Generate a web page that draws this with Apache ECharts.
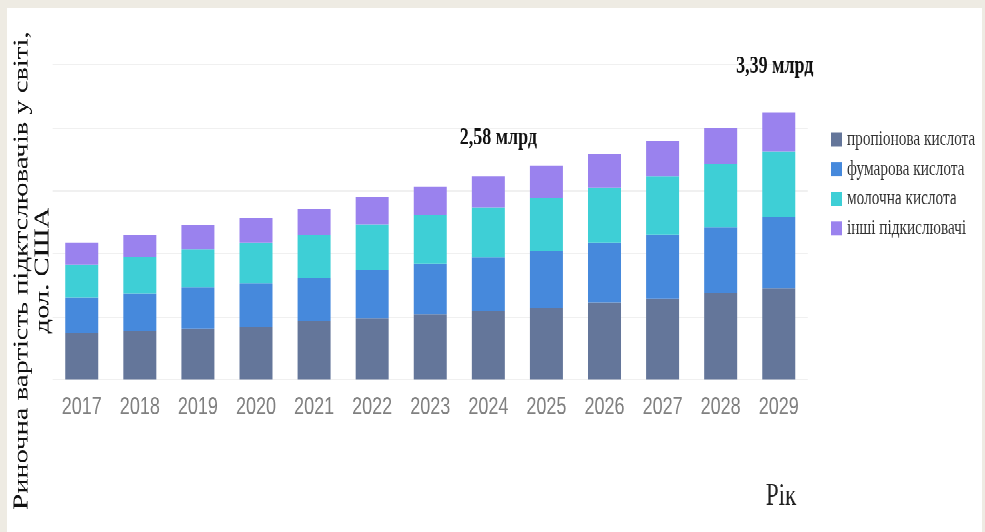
<!DOCTYPE html>
<html>
<head>
<meta charset="utf-8">
<script src="https://cdn.jsdelivr.net/npm/echarts@6/dist/echarts.min.js"></script>
<style>
  html, body { margin: 0; padding: 0; background: #EEEBE3; width: 985px; height: 532px; overflow: hidden; }
  /* the chart is laid out at a reduced height and stretched vertically */
  #chart {
    position: absolute; left: 7px; top: 8px;
    width: 975px; height: 394px;
    background: #ffffff;
    transform: scaleY(1.33); transform-origin: 0 0;
  }
</style>
</head>
<body>
<div id="chart"></div>
<script>
// Market value of acidulants worldwide, bn USD
const years = ['2017', '2018', '2019', '2020', '2021', '2022', '2023', '2024', '2025', '2026', '2027', '2028', '2029'];
const propionic = [0.59, 0.62, 0.65, 0.67, 0.74, 0.78, 0.83, 0.87, 0.91, 0.98, 1.03, 1.10, 1.16];
const fumaric   = [0.45, 0.47, 0.52, 0.55, 0.55, 0.61, 0.64, 0.68, 0.72, 0.76, 0.81, 0.83, 0.90];
const lactic    = [0.42, 0.47, 0.48, 0.52, 0.54, 0.58, 0.62, 0.64, 0.68, 0.70, 0.74, 0.81, 0.84];
const others    = [0.28, 0.27, 0.31, 0.31, 0.33, 0.35, 0.36, 0.39, 0.41, 0.43, 0.45, 0.46, 0.49];
const seriesNames = ['пропіонова кислота', 'фумарова кислота', 'молочна кислота', 'інші підкислювачі'];
const colors = ['#64769A', '#4689DC', '#3ECFD6', '#9A82EE'];
// years whose total is annotated above the bar
const annotatedYears = ['2024', '2029'];

const total = i => propionic[i] + fumaric[i] + lactic[i] + others[i];
const fmtTotal = i => total(i).toFixed(2).replace('.', ',') + ' млрд';

const labelPlacement = { '2024': { distance: 20, offset: [10, 0] }, '2029': { distance: 26, offset: [-4, 0] } };

const topData = others.map((v, i) => {
  const y = years[i];
  if (annotatedYears.indexOf(y) < 0) return v;
  return {
    value: v,
    label: {
      show: true,
      position: 'top',
      distance: labelPlacement[y].distance,
      offset: labelPlacement[y].offset,
      formatter: () => fmtTotal(i),
      fontFamily: 'Liberation Serif',
      fontWeight: 'bold',
      fontSize: 18,
      color: '#111'
    }
  };
});

const chart = echarts.init(document.getElementById('chart'), null, { renderer: 'canvas', devicePixelRatio: 2 });

const barBase = { type: 'bar', stack: 'total', barWidth: 33 };

chart.setOption({
  animation: false,
  backgroundColor: '#ffffff',
  color: colors,
  grid: { left: 45.7, right: 174.2, top: 42.6, bottom: 114.7, containLabel: false },
  legend: {
    orient: 'vertical',
    left: 819,
    top: 86.5,
    itemWidth: 11,
    itemHeight: 10.5,
    itemGap: 7.3,
    icon: 'rect',
    textStyle: { fontFamily: 'Liberation Serif', fontSize: 15.3, color: '#333' },
    data: seriesNames
  },
  xAxis: {
    type: 'category',
    data: years,
    axisLine: { show: false },
    axisTick: { show: false },
    axisLabel: { color: '#808080', fontSize: 18, fontFamily: 'Liberation Sans', margin: 12 }
  },
  yAxis: {
    type: 'value',
    min: 0,
    max: 4,
    interval: 0.8,
    axisLabel: { show: false },
    axisLine: { show: false },
    axisTick: { show: false },
    splitLine: { lineStyle: { color: '#f0f0f0', width: 1 } }
  },
  series: [
    Object.assign({ name: seriesNames[0], data: propionic }, barBase),
    Object.assign({ name: seriesNames[1], data: fumaric }, barBase),
    Object.assign({ name: seriesNames[2], data: lactic }, barBase),
    Object.assign({ name: seriesNames[3], data: topData }, barBase)
  ],
  graphic: [
    {
      type: 'text',
      x: 25.5,
      y: 197.5,
      rotation: Math.PI / 2,
      style: {
        text: 'Риночна вартість підктслювачів у світі,\nдол. США',
        font: '21.5px "Liberation Serif"',
        lineHeight: 21,
        fill: '#111',
        align: 'center',
        verticalAlign: 'middle'
      }
    },
    {
      type: 'text',
      x: 774,
      y: 367.7,
      style: {
        text: 'Рік',
        font: '23px "Liberation Serif"',
        fill: '#222',
        align: 'center',
        verticalAlign: 'middle'
      }
    }
  ]
});
</script>
</body>
</html>
